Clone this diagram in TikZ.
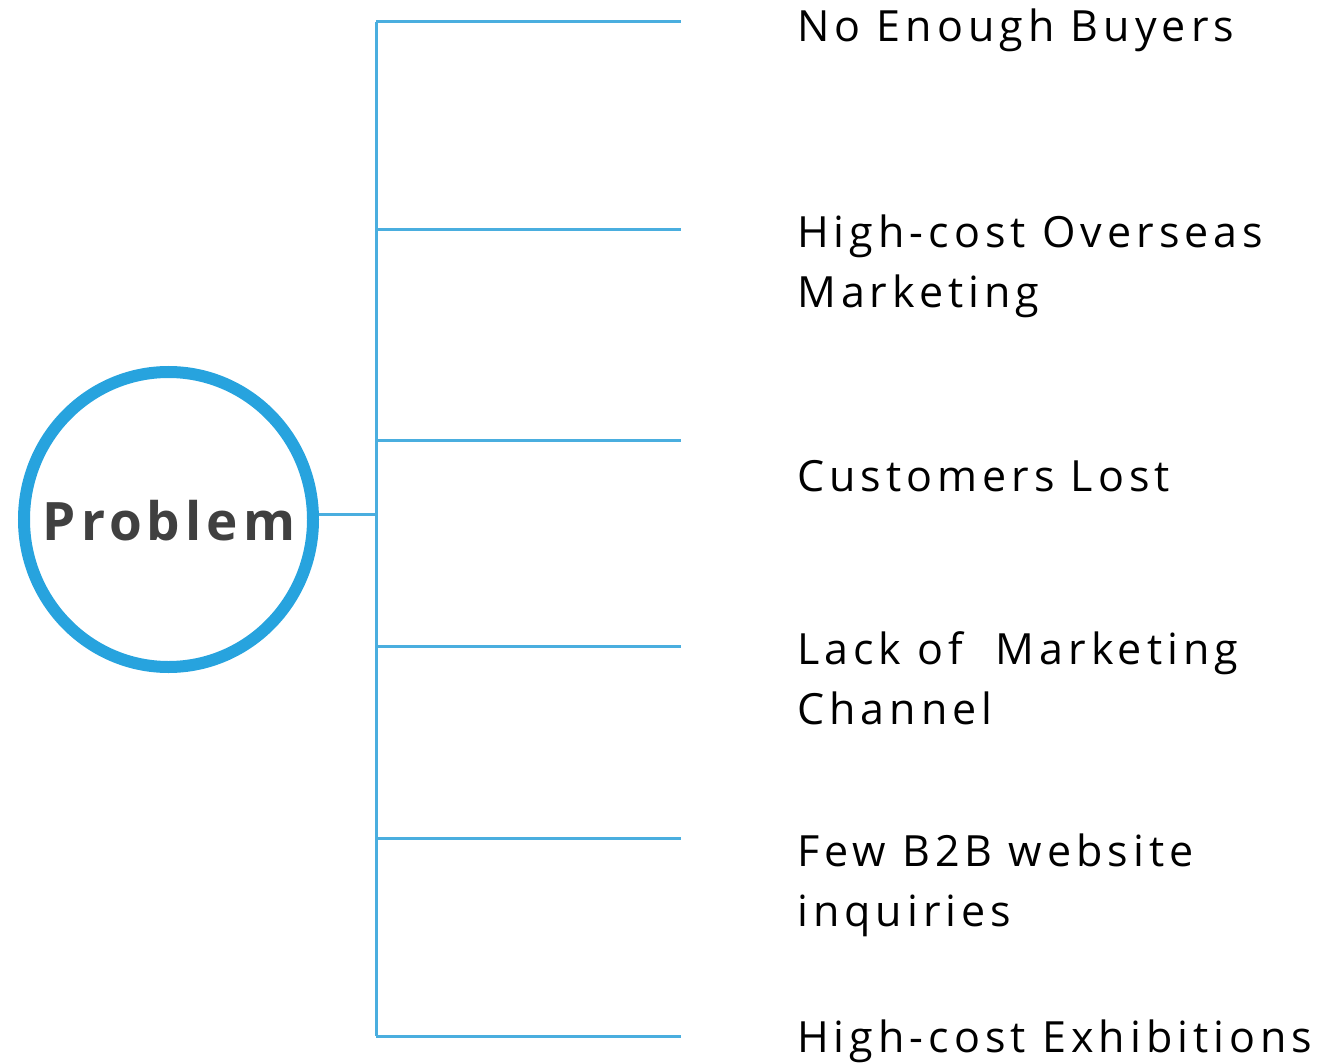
\documentclass[tikz,border=0pt]{standalone}
\usepackage{fontspec}
\setmainfont{Open Sans}[LetterSpace=11.7]
\newfontfamily\probfont{Open Sans}[LetterSpace=9.5]
\usetikzlibrary{shapes.geometric}
\definecolor{ringblue}{HTML}{27A3DE}
\definecolor{lineblue}{HTML}{4AAEDF}
\definecolor{probgray}{HTML}{404040}
\tikzset{
  conn/.style={draw=lineblue, line width=3pt},
  lbl/.style={anchor=base west, inner sep=0pt, align=left, font=\fontsize{43}{60}\selectfont, text=black},
}
\begin{document}
\begin{tikzpicture}[x=1pt,y=-1pt]
\useasboundingbox (0,0) rectangle (1335,1064);
\node[ellipse, draw=ringblue, line width=12pt, minimum width=289pt, minimum height=295pt, inner sep=0pt] (prob) at (168.5,519.5) {};
\node[anchor=base, inner sep=0pt, font=\probfont\bfseries\fontsize{53}{60}\selectfont, text=probgray] (probtxt) at (169,540) {Problem};
\coordinate (hub) at (376,514);
\coordinate (top) at (376,22);
\coordinate (bot) at (376,1036);
\foreach \i/\y in {1/22,2/230,3/440,4/646,5/838,6/1036}{
  \coordinate (h\i) at (376,\y);
  \coordinate (e\i) at (681,\y);
}
\draw[conn] (prob.east |- hub) -- (hub);
\draw[conn] (top) -- (bot);
\foreach \i in {1,...,6}{ \draw[conn] (h\i) -- (e\i); }
\node[lbl] (l1) at (797,42) {No Enough Buyers};
\node[lbl] (l2) at (797,308) {High-cost Overseas\\Marketing};
\node[lbl] (l3) at (797,491) {Customers Lost};
\node[lbl] (l4) at (797,724) {Lack of \ Marketing\\Channel};
\node[lbl] (l5) at (797,926) {Few B2B website\\inquiries};
\node[lbl] (l6) at (797,1052) {High-cost Exhibitions};
\end{tikzpicture}
\end{document}
